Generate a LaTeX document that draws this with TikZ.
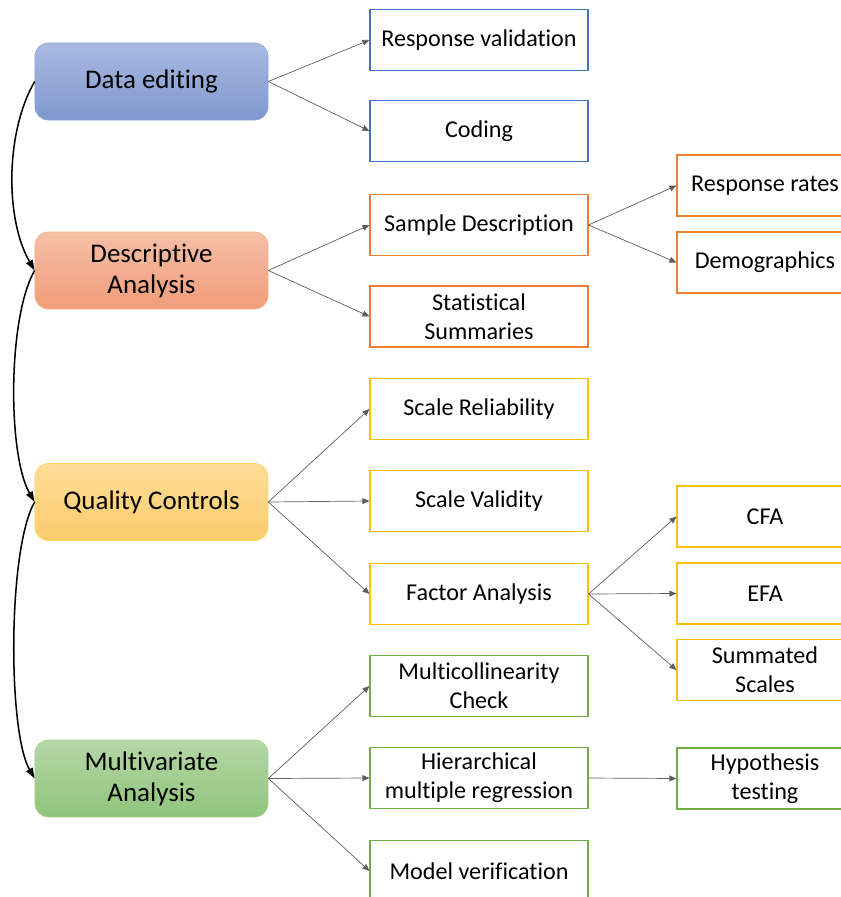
\documentclass[tikz,border=0pt]{standalone}
\usepackage{fontspec}
\setmainfont{Carlito}[Ligatures=NoCommon]
\usetikzlibrary{arrows.meta}
\definecolor{edittop}{HTML}{A9B9E0}
\definecolor{editbot}{HTML}{7F98CE}
\definecolor{editline}{HTML}{8EA6D8}
\definecolor{desctop}{HTML}{F6BFA8}
\definecolor{descbot}{HTML}{F19C79}
\definecolor{descline}{HTML}{F4B183}
\definecolor{qualtop}{HTML}{FFDD99}
\definecolor{qualbot}{HTML}{FACB6A}
\definecolor{qualline}{HTML}{FFD966}
\definecolor{multtop}{HTML}{B5D7A6}
\definecolor{multbot}{HTML}{8FC47B}
\definecolor{multline}{HTML}{A9D18E}
\definecolor{editedge}{HTML}{4472C4}
\definecolor{descedge}{HTML}{ED7D31}
\definecolor{qualedge}{HTML}{FFC000}
\definecolor{multedge}{HTML}{70AD47}
\definecolor{linkgray}{HTML}{5E5E5E}
\begin{document}
\begin{tikzpicture}
[x=0.03cm,y=-0.03cm,
  stagebox/.style={shape=rectangle,rounded corners=0.4cm,minimum width=6.99cm,minimum height=2.31cm,
    align=center,font=\fontsize{23}{26.5}\selectfont,line width=0.6pt},
  taskbox/.style={shape=rectangle,draw,fill=white,minimum width=6.54cm,minimum height=1.83cm,
    align=center,font=\fontsize{20.6}{24.7}\selectfont,line width=0.9pt},
  detailbox/.style={taskbox,minimum width=5.28cm},
  stagelink/.style={-{Triangle[length=9pt,width=6pt]},line width=1.3pt,black},
  tasklink/.style={-{Triangle[length=6pt,width=5pt]},line width=0.6pt,linkgray}]
\useasboundingbox (0,0) rectangle (841,897);
%%% main stages
% nodes
\node (edit) at (151.5,81.5) [stagebox,draw=editline,top color=edittop,bottom color=editbot] {Data editing};
\node (desc) at (151.5,270.5) [stagebox,draw=descline,top color=desctop,bottom color=descbot] {Descriptive\\Analysis};
\node (qual) at (151.5,502) [stagebox,draw=qualline,top color=qualtop,bottom color=qualbot] {Quality Controls};
\node (mult) at (151.5,778.5) [stagebox,draw=multline,top color=multtop,bottom color=multbot] {Multivariate\\Analysis};
% links
\path
(edit.west) edge[stagelink,out=240,in=120,looseness=0.8] (desc.west)
(desc.west) edge[stagelink,out=240,in=120,looseness=0.6] (qual.west)
(qual.west) edge[stagelink,out=240,in=120,looseness=0.5] (mult.west);
%
%%% data editing
% nodes
\node (valid) at (479,40) [taskbox,draw=editedge] {Response validation};
\node (code) at (479,131) [taskbox,draw=editedge] {Coding};
% links
\path
(edit.east) edge[tasklink] (valid.west)
(edit.east) edge[tasklink] (code.west);
%
%%% descriptive analysis
% nodes
\node (sample) at (479,225) [taskbox,draw=descedge] {Sample Description};
\node (summ) at (479,316.5) [taskbox,draw=descedge] {Statistical\\Summaries};
\node (rates) at (765,185.5) [detailbox,draw=descedge] {Response rates};
\node (demo) at (765,262.5) [detailbox,draw=descedge] {Demographics};
% links
\path
(desc.east) edge[tasklink] (sample.west)
(desc.east) edge[tasklink] (summ.west)
(sample.east) edge[tasklink] (rates.west)
(sample.east) edge[tasklink] (demo.west);
%
%%% quality controls
% nodes
\node (rel) at (479,409) [taskbox,draw=qualedge] {Scale Reliability};
\node (val) at (479,501) [taskbox,draw=qualedge] {Scale Validity};
\node (fact) at (479,594) [taskbox,draw=qualedge] {Factor Analysis};
\node (cfa) at (765,516.5) [detailbox,draw=qualedge] {CFA};
\node (efa) at (765,593.5) [detailbox,draw=qualedge] {EFA};
\node (sum) at (765,670) [detailbox,draw=qualedge] {Summated\\Scales};
% links
\path
(qual.east) edge[tasklink] (rel.west)
(qual.east) edge[tasklink] (val.west)
(qual.east) edge[tasklink] (fact.west)
(fact.east) edge[tasklink] (cfa.west)
(fact.east) edge[tasklink] (efa.west)
(fact.east) edge[tasklink] (sum.west);
%
%%% multivariate analysis
% nodes
\node (coll) at (479,686) [taskbox,draw=multedge] {Multicollinearity\\Check};
\node (hier) at (479,778) [taskbox,draw=multedge] {Hierarchical\\multiple regression};
\node (model) at (479,871) [taskbox,draw=multedge] {Model verification};
\node (hyp) at (765,778.5) [detailbox,draw=multedge] {Hypothesis\\testing};
% links
\path
(mult.east) edge[tasklink] (coll.west)
(mult.east) edge[tasklink] (hier.west)
(mult.east) edge[tasklink] (model.west)
(hier.east) edge[tasklink] (hyp.west);
\end{tikzpicture}
\end{document}
